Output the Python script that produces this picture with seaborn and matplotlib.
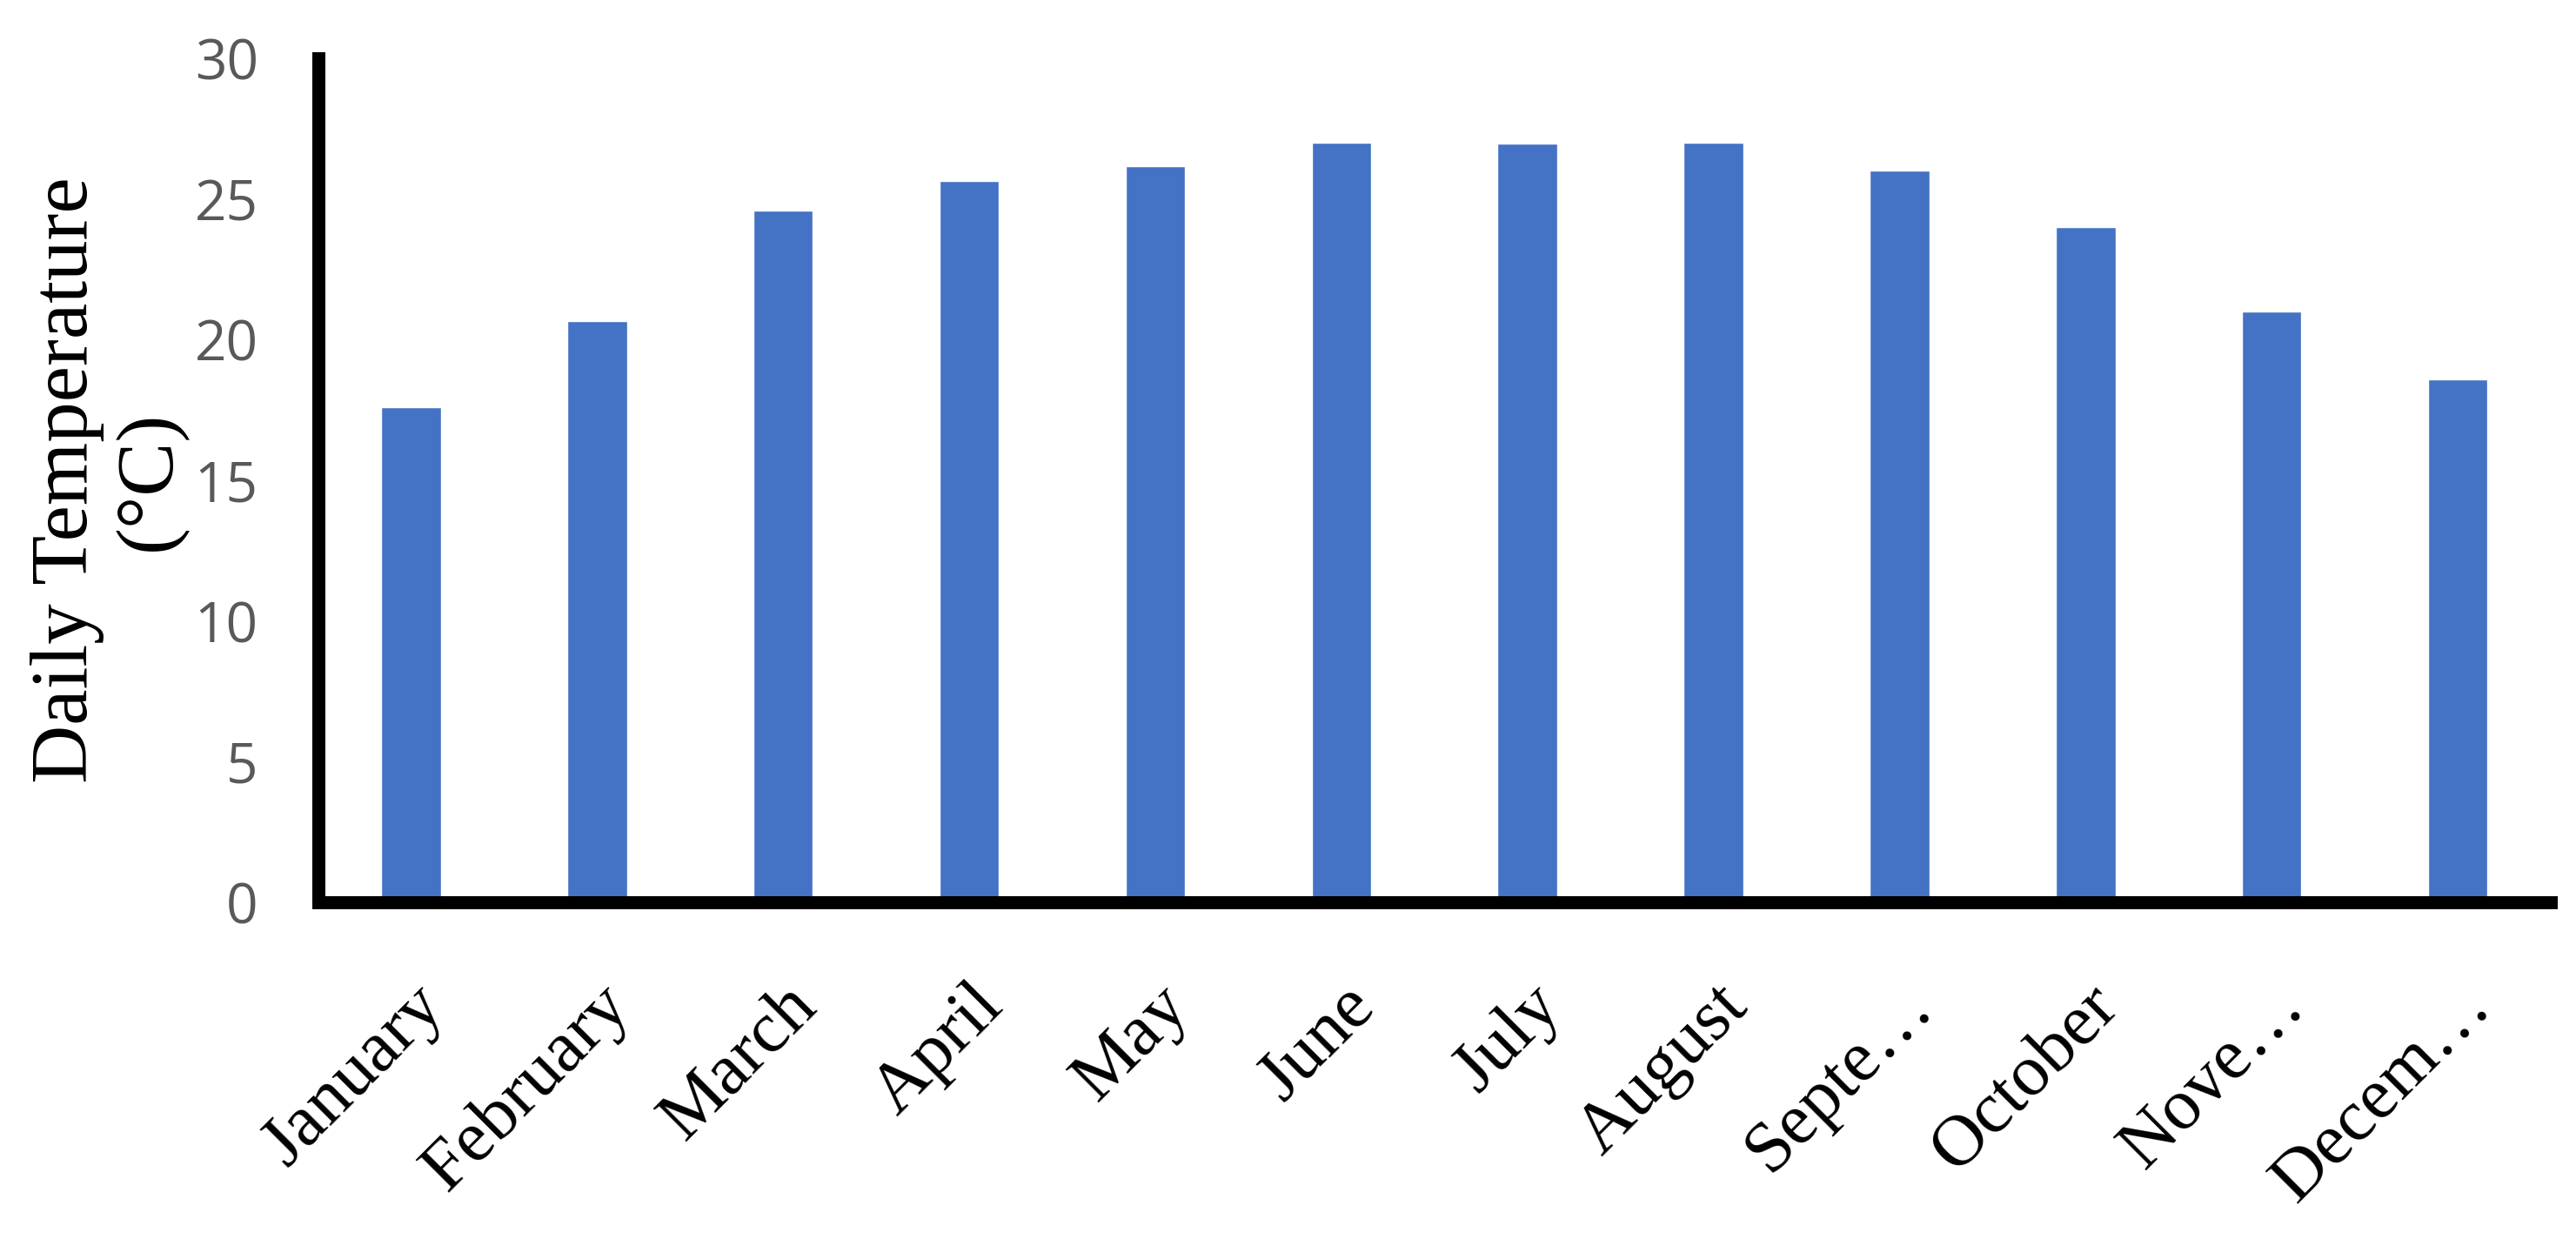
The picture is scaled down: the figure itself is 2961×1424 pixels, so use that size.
import matplotlib
matplotlib.use('Agg')
import matplotlib.pyplot as plt
import pandas as pd
import seaborn as sns

# ===== DATA =====
months = ['January', 'February', 'March', 'April', 'May', 'June',
          'July', 'August', 'Septe…', 'October', 'Nove…', 'Decem…']
temps = [17.6, 20.65, 24.6, 25.65, 26.15, 27.0, 26.97, 27.0, 26.0, 24.0, 21.0, 18.6]
y_ticks = [0, 5, 10, 15, 20, 25, 30]
y_label = 'Daily Temperature\n(°C)'

df = pd.DataFrame({'month': months, 'temp': temps})

# ===== STYLE =====
sns.set_style('white')
plt.rcParams['font.family'] = ['Liberation Serif', 'DejaVu Serif']

fig = plt.figure(figsize=(29.61, 14.24), dpi=100)
ax = fig.add_axes([0.12344, 0.27177, 0.86677, 0.68118])

sns.barplot(data=df, x='month', y='temp', color='#4472C4', saturation=1,
            width=0.32, ax=ax)

ax.set_xlim(-0.5, len(months) - 0.5)
ax.set_ylim(0, 30)

# spines
for side in ['top', 'right']:
    ax.spines[side].set_visible(False)
for side in ['left', 'bottom']:
    ax.spines[side].set_linewidth(10.8)
    ax.spines[side].set_color('black')

# ticks
ax.set_yticks(y_ticks, labels=[str(v) for v in y_ticks],
              fontfamily=['Open Sans', 'DejaVu Sans'], fontsize=46, color='#595959')
ax.set_xticks(range(len(months)), labels=months, rotation=45, ha='right', va='top',
              rotation_mode='anchor', fontsize=60, color='black')
ax.set_xticks([-0.5, len(months) - 0.5], minor=True)
ax.tick_params(axis='both', which='both', direction='out', length=16.5,
               width=10.8, color='black')
ax.tick_params(axis='y', pad=33)
ax.tick_params(axis='x', pad=42)

ax.set_xlabel('')
ax.set_ylabel(y_label, fontsize=67, color='black', linespacing=1.15)
ax.yaxis.set_label_coords(-0.0586, 0.5)

fig.savefig('out.png', dpi=100)
